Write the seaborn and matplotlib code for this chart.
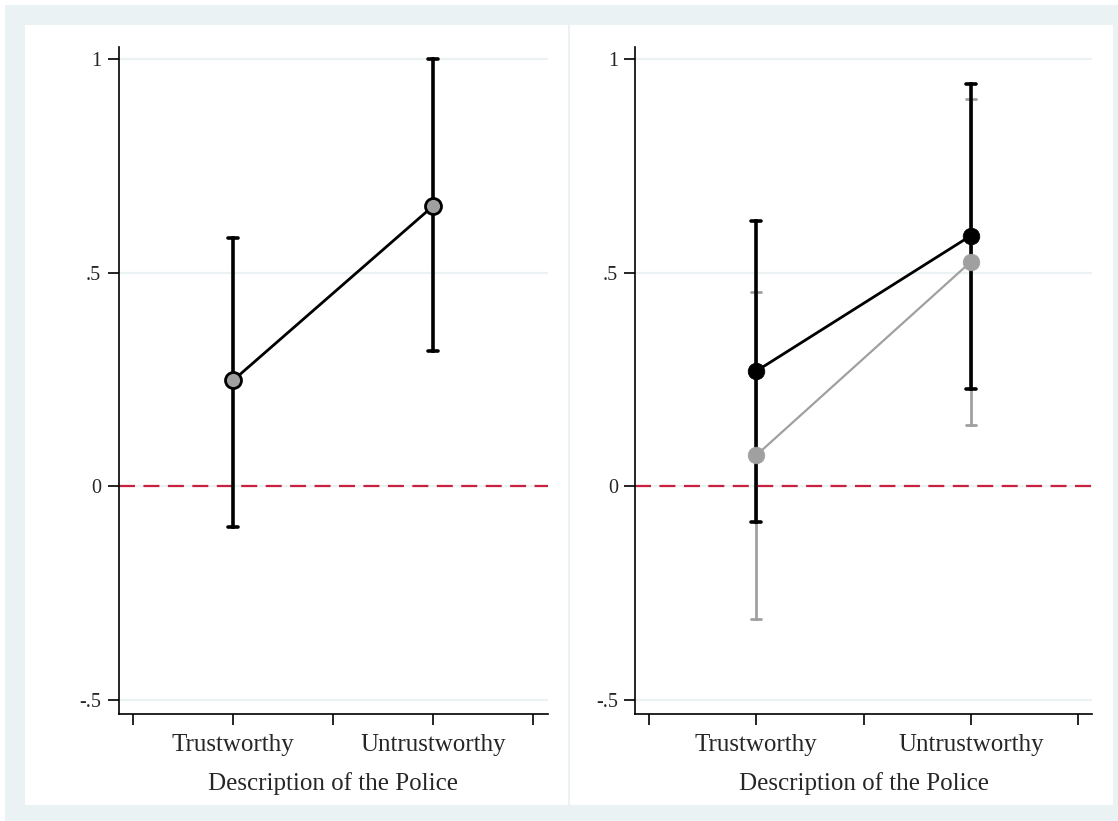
"""Predicted effect by description of the police, two panels (Stata-like look)."""
import numpy as np
import pandas as pd
import matplotlib
matplotlib.use("Agg")
import matplotlib.pyplot as plt
from matplotlib.patches import Rectangle
import seaborn as sns

# categories on the x axis
descriptions = ["Trustworthy", "Untrustworthy"]

# left panel: estimate with 95% CI
left_est = [0.248, 0.656]
left_lo = [-0.094, 0.316]
left_hi = [0.582, 1.000]

# right panel: two series
right_series = ["Group 1", "Group 2"]
dark_est = [0.270, 0.587]
dark_lo = [-0.082, 0.229]
dark_hi = [0.621, 0.941]
light_est = [0.073, 0.526]
light_lo = [-0.311, 0.143]
light_hi = [0.454, 0.907]

y_ticks = [-0.5, 0, 0.5, 1]
y_ticklabels = ["-.5", "0", ".5", "1"]
x_title = "Description of the Police"

BG = "#EAF2F3"
GREY = "#A0A0A0"
RED = "#C8203F"


def long_frame(est, lo, hi, name):
    # three rows per category: median -> estimate, min/max -> CI bounds
    rows = []
    for d, e, l, h in zip(descriptions, est, lo, hi):
        for v in (l, e, h):
            rows.append({"description": d, "value": v, "series": name})
    return pd.DataFrame(rows)


def ci_range(v):
    return (v.min(), v.max())


def style_axis(ax, xlim):
    ax.set_ylim(-0.533, 1.029)
    ax.set_xlim(*xlim)
    ax.set_yticks(y_ticks)
    ax.set_yticklabels(y_ticklabels, fontsize=14.5)
    ax.set_xticks([-0.5, 0, 0.5, 1, 1.5])
    ax.set_xticklabels(["", descriptions[0], "", descriptions[1], ""], fontsize=18)
    ax.tick_params(axis="y", length=8, width=1.2, pad=4.5, color="black")
    ax.tick_params(axis="x", length=8, width=1.2, pad=6, color="black")
    ax.set_xlabel(x_title, fontsize=18, labelpad=12)
    ax.set_ylabel("")
    ax.grid(axis="y", color=BG, linewidth=1.6, zorder=0)
    ax.grid(axis="x", visible=False)
    ax.set_axisbelow(True)
    ax.axhline(0, color=RED, linewidth=1.6, linestyle=(0, (7.2, 3.8)), zorder=1)
    sns.despine(ax=ax)
    for s in ("left", "bottom"):
        ax.spines[s].set_linewidth(1.2)
        ax.spines[s].set_color("black")
    ax.set_facecolor("white")
    # markers/lines above the error bars
    for ln in ax.lines:
        if ln.get_marker() not in (None, "None", ""):
            ln.set_zorder(4)


sns.set_style("ticks")
plt.rcParams["font.family"] = ["Liberation Serif", "DejaVu Serif"]

W, H = 1118, 821
fig = plt.figure(figsize=(W / 100, H / 100), dpi=100, facecolor="white")

# background bands and white panels (pixel coords from top-left)
def fig_rect(x0, y0, x1, y1, color):
    fig.add_artist(Rectangle((x0 / W, 1 - y1 / H), (x1 - x0) / W, (y1 - y0) / H,
                             transform=fig.transFigure, facecolor=color,
                             edgecolor="none", zorder=-10))

fig_rect(5, 5, W, H, BG)
fig_rect(25, 25, 568, 805, "white")
fig_rect(570, 25, 1113, 805, "white")

ax1 = fig.add_axes([118.6 / W, 1 - 714.3 / H, (547.5 - 118.6) / W, (714.3 - 46.7) / H])
ax2 = fig.add_axes([635.4 / W, 1 - 714.3 / H, (1092 - 635.4) / W, (714.3 - 46.7) / H])

left_df = long_frame(left_est, left_lo, left_hi, "all")
sns.pointplot(data=left_df, x="description", y="value", order=descriptions,
              estimator="median", errorbar=ci_range, color="black",
              capsize=0.05, linewidth=2.0, markersize=11.5,
              markerfacecolor=GREY, markeredgecolor="black", markeredgewidth=2.0,
              err_kws={"linewidth": 2.6}, ax=ax1)

light_df = long_frame(light_est, light_lo, light_hi, right_series[1])
dark_df = long_frame(dark_est, dark_lo, dark_hi, right_series[0])
sns.pointplot(data=light_df, x="description", y="value", order=descriptions,
              estimator="median", errorbar=ci_range, color=GREY,
              capsize=0.045, linewidth=1.6, markersize=12, markeredgewidth=0.5,
              err_kws={"linewidth": 2.0}, ax=ax2)
sns.pointplot(data=dark_df, x="description", y="value", order=descriptions,
              estimator="median", errorbar=ci_range, color="black",
              capsize=0.045, linewidth=2.0, markersize=12, markeredgewidth=0.5,
              err_kws={"linewidth": 2.6}, ax=ax2)

style_axis(ax1, (-0.572, 1.5725))
style_axis(ax2, (-0.563, 1.564))

fig.savefig("out.png", dpi=100, facecolor="white")
